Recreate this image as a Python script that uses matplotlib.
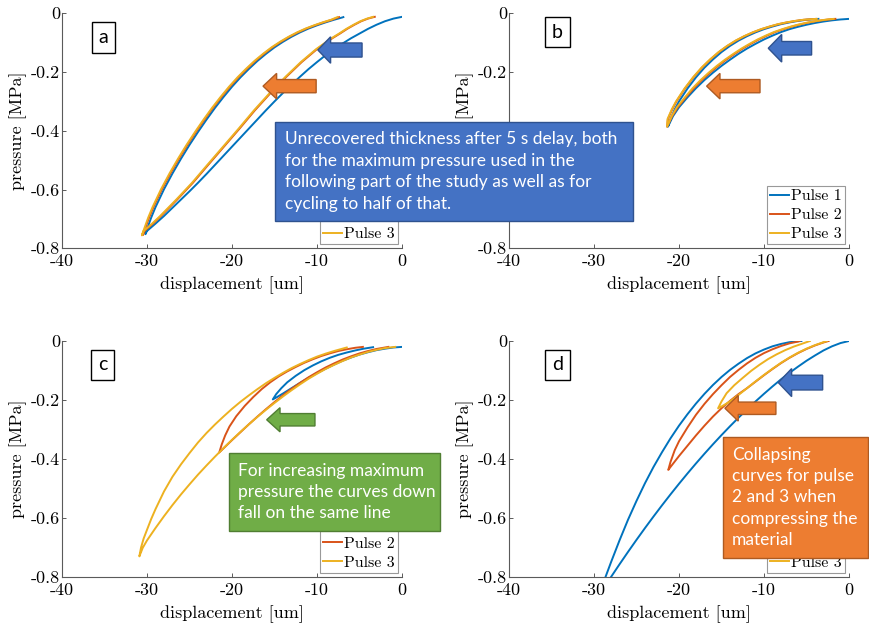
import matplotlib
matplotlib.use('Agg')
import matplotlib.pyplot as plt
from matplotlib.patches import FancyArrow, Rectangle

plt.rcParams['font.family'] = 'serif'
plt.rcParams['font.serif'] = ['cmr10']
plt.rcParams['axes.unicode_minus'] = False
plt.rcParams['mathtext.fontset'] = 'cm'
plt.rcParams['axes.formatter.use_mathtext'] = True

# --- pressure/displacement loops: loading branch, then unloading branch ---
# panel a: cycling to the maximum pressure
a_p1_x = [0, -1, -2, -3, -4, -5, -6, -7, -8, -9, -10, -11, -12, -13, -14, -15, -16, -17, -18, -19, -20,
          -21, -22, -23, -24, -25, -26, -27, -28, -29, -30, -30.2,
          -30, -29.5, -29, -28, -27, -26, -25, -24, -23, -22, -21, -20, -19, -18, -17, -16, -15, -14,
          -13, -12, -11, -10, -9, -8, -7, -6.9]
a_p1_y = [-0.012, -0.018, -0.027, -0.039, -0.053, -0.069, -0.085, -0.103, -0.122, -0.143, -0.166, -0.19,
          -0.216, -0.243, -0.271, -0.30, -0.33, -0.361, -0.392, -0.423, -0.454, -0.485, -0.516, -0.547,
          -0.577, -0.606, -0.634, -0.662, -0.69, -0.716, -0.741, -0.752,
          -0.735, -0.695, -0.66, -0.599, -0.545, -0.495, -0.448, -0.404, -0.362, -0.322, -0.285, -0.25,
          -0.218, -0.189, -0.162, -0.138, -0.116, -0.097, -0.08, -0.065, -0.052, -0.041, -0.031, -0.022,
          -0.014, -0.013]
a_p2_x = [-3.2, -4.0, -4.8, -5.6, -6.45, -7.3, -8.2, -10.0, -11.8, -13.6, -15.45, -17.3, -19.1, -20.95,
          -22.8, -24.6, -26.45, -28.35, -29.3, -30.3, -30.5,
          -30.25, -29.75, -29.25, -28.25, -27.25, -26.25, -25.25, -24.25, -23.25, -22.25, -21.25, -20.25,
          -19.25, -18.25, -17.25, -16.25, -15.25, -14.25, -13.25, -12.25, -11.25, -10.25, -9.25, -8.25,
          -7.4]
a_p2_y = [-0.012, -0.018, -0.027, -0.039, -0.053, -0.069, -0.085, -0.122, -0.166, -0.216, -0.271, -0.33,
          -0.392, -0.454, -0.516, -0.577, -0.634, -0.69, -0.716, -0.741, -0.755,
          -0.735, -0.695, -0.66, -0.599, -0.545, -0.495, -0.448, -0.404, -0.362, -0.322, -0.285, -0.25,
          -0.218, -0.189, -0.162, -0.138, -0.116, -0.097, -0.08, -0.065, -0.052, -0.041, -0.031, -0.022,
          -0.013]
a_p3_x = [-3.4, -4.1, -4.9, -5.7, -6.55, -7.4, -8.3, -10.1, -11.9, -13.7, -15.55, -17.4, -19.2, -21.05,
          -22.9, -24.7, -26.55, -28.45, -29.4, -30.4, -30.6,
          -30.35, -29.85, -29.35, -28.35, -27.35, -26.35, -25.35, -24.35, -23.35, -22.35, -21.35, -20.35,
          -19.35, -18.35, -17.35, -16.35, -15.35, -14.35, -13.35, -12.35, -11.35, -10.35, -9.35, -8.35,
          -7.6]
a_p3_y = a_p2_y[:20] + [-0.756] + a_p2_y[21:]

# panel b: cycling to half of the maximum pressure
b_p1_x = [0, -1, -2, -3, -4, -5, -6, -7, -8, -9, -10, -11, -12, -13, -14, -15, -16, -17, -18, -19, -20,
          -20.7, -21.3,
          -21, -20.5, -20, -19, -18, -17, -16, -15, -14, -13, -12, -11, -10, -9, -8, -7, -6, -5, -4, -3.6]
b_p1_y = [-0.019, -0.021, -0.024, -0.028, -0.033, -0.039, -0.046, -0.054, -0.064, -0.076, -0.089, -0.104,
          -0.12, -0.138, -0.158, -0.179, -0.202, -0.227, -0.255, -0.286, -0.32, -0.35, -0.386,
          -0.36, -0.327, -0.3, -0.256, -0.218, -0.185, -0.157, -0.132, -0.111, -0.093, -0.078, -0.065,
          -0.054, -0.045, -0.037, -0.031, -0.026, -0.022, -0.02, -0.019]
b_p2_x = [-1.6, -2.4, -3.2, -4.1, -5.0, -5.9, -6.8, -7.7, -8.7, -9.65, -10.6, -11.55, -12.5, -13.45,
          -14.45, -15.4, -16.35, -17.3, -18.25, -19.2, -20.15, -20.8, -21.4,
          -21.3, -20.8, -20.3, -19.3, -18.3, -17.3, -16.3, -15.3, -14.3, -13.3, -12.3, -11.3, -10.3, -9.3,
          -8.3, -7.3, -6.3, -5.3, -4.3, -3.9]
b_p2_y = b_p1_y
b_p3_x = [-1.8, -2.55, -3.35, -4.25, -5.15, -6.05, -6.95, -7.85, -8.85, -9.8, -10.75, -11.7, -12.65,
          -13.6, -14.6, -15.55, -16.5, -17.45, -18.4, -19.3, -20.25, -20.85, -21.4,
          -21.35, -20.85, -20.35, -19.35, -18.35, -17.35, -16.35, -15.35, -14.35, -13.35, -12.35, -11.35,
          -10.35, -9.35, -8.35, -7.35, -6.35, -5.35, -4.35, -3.8]
b_p3_y = b_p1_y

# panel c: increasing maximum pressure per pulse
c_p1_x = [0, -1, -2, -3, -4, -5, -6, -7, -8, -9, -10, -11, -12, -13, -14, -14.7, -15.2,
          -14.8, -14.2, -13.5, -12.5, -11.5, -10.5, -9.5, -8.5, -7.5, -6.5, -5.5, -4.5, -3.4]
c_p1_y = [-0.02, -0.022, -0.026, -0.031, -0.038, -0.046, -0.056, -0.067, -0.08, -0.094, -0.109, -0.125,
          -0.142, -0.16, -0.178, -0.19, -0.198,
          -0.18, -0.16, -0.14, -0.118, -0.099, -0.083, -0.069, -0.057, -0.047, -0.039, -0.032, -0.026,
          -0.021]
c_p2_x = [-1.6, -3, -4, -5, -6, -7, -8, -9, -10, -11, -12, -13, -14, -15, -16, -17, -18, -19, -20, -21,
          -21.5,
          -21.2, -20.8, -20.3, -19.5, -18.5, -17.5, -16.5, -15.5, -14.5, -13.5, -12.5, -11.5, -10.5, -9.5,
          -8.5, -7.5, -6.5, -5.5, -4.6]
c_p2_y = [-0.02, -0.027, -0.034, -0.042, -0.052, -0.063, -0.076, -0.09, -0.106, -0.123, -0.142, -0.162,
          -0.184, -0.207, -0.231, -0.256, -0.282, -0.309, -0.336, -0.364, -0.378,
          -0.35, -0.32, -0.29, -0.255, -0.22, -0.19, -0.163, -0.14, -0.12, -0.103, -0.088, -0.074, -0.062,
          -0.051, -0.042, -0.034, -0.028, -0.023, -0.02]
c_p3_x = [-0.8, -2, -3, -4, -5, -6, -7, -8, -9, -10, -11, -12, -13, -14, -15, -16, -17, -18, -19, -20,
          -21, -22, -23, -24, -25, -26, -27, -28, -29, -30, -30.5, -30.9,
          -30.7, -30.4, -30, -29.5, -29, -28, -27, -26, -25, -24, -23, -22, -21, -20, -19, -18, -17, -16,
          -15, -14, -13, -12, -11, -10, -9, -8, -7, -6.5]
c_p3_y = [-0.02, -0.024, -0.03, -0.037, -0.046, -0.056, -0.068, -0.081, -0.095, -0.111, -0.128, -0.147,
          -0.167, -0.188, -0.21, -0.233, -0.257, -0.282, -0.308, -0.335, -0.363, -0.392, -0.422, -0.453,
          -0.486, -0.52, -0.556, -0.594, -0.634, -0.676, -0.701, -0.73,
          -0.70, -0.67, -0.64, -0.603, -0.57, -0.51, -0.46, -0.418, -0.38, -0.344, -0.312, -0.283,
          -0.256, -0.23, -0.206, -0.184, -0.163, -0.143, -0.125, -0.108, -0.092, -0.078, -0.065, -0.053,
          -0.043, -0.034, -0.026, -0.022]

# panel d: full compression first, then smaller pulses
d_p1_x = [0, -1, -2, -3, -4, -5, -6, -7, -8, -9, -10, -11, -12, -13, -14, -15, -16, -17, -18, -19, -20,
          -21, -22, -23, -24, -25, -26, -27, -28, -29,
          -29.3, -28.7, -28, -27, -26, -25, -24, -23, -22, -21, -20, -19, -18, -17, -16, -15, -14, -13,
          -12, -11, -10, -9, -8, -7, -6, -5.6]
d_p1_y = [0, -0.007, -0.018, -0.032, -0.049, -0.067, -0.087, -0.108, -0.13, -0.154, -0.179, -0.205,
          -0.232, -0.26, -0.289, -0.319, -0.35, -0.382, -0.415, -0.449, -0.484, -0.52, -0.557, -0.595,
          -0.634, -0.674, -0.715, -0.757, -0.80, -0.844,
          -0.85, -0.804, -0.75, -0.676, -0.606, -0.542, -0.482, -0.427, -0.377, -0.33, -0.287, -0.248,
          -0.212, -0.179, -0.149, -0.122, -0.098, -0.077, -0.058, -0.042, -0.029, -0.018, -0.01, -0.004,
          -0.001, 0.0]
d_p2_x = [-2.4, -3, -4, -5, -6, -7, -8, -9, -10, -11, -12, -13, -14, -15, -16, -17, -18, -19, -20, -21,
          -21.26,
          -21, -20.5, -20, -19, -18, -17, -16, -15, -14, -13, -12, -11, -10, -9, -8, -7, -6, -5.8]
d_p2_y = [0, -0.005, -0.015, -0.027, -0.041, -0.057, -0.075, -0.095, -0.116, -0.138, -0.16, -0.18,
          -0.203, -0.228, -0.256, -0.287, -0.32, -0.355, -0.39, -0.427, -0.437,
          -0.41, -0.37, -0.34, -0.293, -0.25, -0.213, -0.18, -0.15, -0.122, -0.098, -0.076, -0.057,
          -0.041, -0.028, -0.017, -0.008, -0.002, 0.0]
d_p3_x = [-2.6, -3, -4, -5, -6, -7, -8, -9, -10, -11, -12, -13, -14, -15, -15.4,
          -15, -14.4, -13.5, -12.5, -11.5, -10.5, -9.5, -8.5, -7.5, -6.5, -5.5, -4.6]
d_p3_y = [0, -0.004, -0.014, -0.026, -0.04, -0.056, -0.074, -0.094, -0.115, -0.137, -0.16, -0.183,
          -0.205, -0.222, -0.228,
          -0.205, -0.177, -0.15, -0.125, -0.101, -0.08, -0.061, -0.045, -0.031, -0.019, -0.009, 0.0]

pulse_labels = ['Pulse 1', 'Pulse 2', 'Pulse 3']
pulse_colors = ['#0072BD', '#D95319', '#EDB120']
x_ticks = [-40, -30, -20, -10, 0]
x_ticklabels = ['-40', '-30', '-20', '-10', '0']
y_ticks = [-0.8, -0.6, -0.4, -0.2, 0]
y_ticklabels = ['-0.8', '-0.6', '-0.4', '-0.2', '0']

W, H = 869, 626
fig = plt.figure(figsize=(W / 100, H / 100), dpi=100)


def px_axes(left, top, right, bottom):
    return fig.add_axes([left / W, 1 - bottom / H, (right - left) / W, (bottom - top) / H])


def style(ax):
    ax.set_xlim(-40, 0)
    ax.set_ylim(-0.8, 0)
    ax.set_xticks(x_ticks)
    ax.set_xticklabels(x_ticklabels)
    ax.set_yticks(y_ticks)
    ax.set_yticklabels(y_ticklabels)
    for s in ['top', 'right']:
        ax.spines[s].set_visible(False)
    for s in ['left', 'bottom']:
        ax.spines[s].set_color('#5a5a5a')
        ax.spines[s].set_linewidth(0.8)
    ax.tick_params(direction='in', length=3, width=0.7, color='#5a5a5a', labelsize=13)
    ax.tick_params(axis='x', pad=4)
    ax.tick_params(axis='y', pad=1.5)
    ax.set_xlabel('displacement [um]', fontsize=13, labelpad=5)
    ax.set_ylabel('pressure [MPa]', fontsize=13, labelpad=3)
    ax.patch.set_alpha(0)


def draw_panel(ax, xs, ys):
    for x, y, c, lab in zip(xs, ys, pulse_colors, pulse_labels):
        ax.plot(x, y, color=c, lw=1.4, label=lab)
    style(ax)
    leg = ax.legend(loc='lower right', fontsize=11.5, fancybox=False, framealpha=1,
                    edgecolor='#999999', handlelength=1.2, handletextpad=0.1,
                    borderpad=0.2, labelspacing=0.3, borderaxespad=0.25)
    leg.get_frame().set_linewidth(0.8)


def arrow(ax, tip_x, tip_y, tail_x, body_w, head_w, head_len, face, edge):
    ax.add_patch(FancyArrow(tail_x, tip_y, tip_x - tail_x, 0, width=body_w, head_width=head_w,
                            head_length=head_len, length_includes_head=True,
                            facecolor=face, edgecolor=edge, lw=1.0, zorder=5, clip_on=False))


def panel_tag(ax, letter, x, y):
    ax.text(x, y, letter, fontsize=14, family='Lato', ha='center', va='center', zorder=6,
            bbox=dict(boxstyle='square,pad=0.35', facecolor='white', edgecolor='black', lw=1.0))


def note(left, top, right, bottom, face, edge, text, size, text_x):
    fig.add_artist(Rectangle((left / W, 1 - bottom / H), (right - left) / W, (bottom - top) / H,
                             transform=fig.transFigure, facecolor=face, edgecolor=edge, lw=1.0))
    fig.text(text_x / W, 1 - (top + bottom) / 2 / H, text, color='white', fontsize=size,
             family='Lato', ha='left', va='center', linespacing=1.42)


BLUE, BLUE_E = '#4472C4', '#2F528F'
ORANGE, ORANGE_E = '#ED7D31', '#AE5A21'
GREEN, GREEN_E = '#70AD47', '#507E32'

ax_a = px_axes(62, 13.3, 402, 248.3)
draw_panel(ax_a, [a_p1_x, a_p2_x, a_p3_x], [a_p1_y, a_p2_y, a_p3_y])
panel_tag(ax_a, 'a', -35.1, -0.082)
arrow(ax_a, -9.9, -0.125, -4.7, 0.048, 0.09, 1.5, BLUE, BLUE_E)
arrow(ax_a, -16.35, -0.248, -10.1, 0.045, 0.087, 1.6, ORANGE, ORANGE_E)

ax_b = px_axes(509, 13.3, 849, 248.3)
draw_panel(ax_b, [b_p1_x, b_p2_x, b_p3_x], [b_p1_y, b_p2_y, b_p3_y])
panel_tag(ax_b, 'b', -34.3, -0.064)
arrow(ax_b, -9.5, -0.119, -4.4, 0.046, 0.094, 1.58, BLUE, BLUE_E)
arrow(ax_b, -16.75, -0.248, -10.47, 0.045, 0.087, 1.57, ORANGE, ORANGE_E)

ax_c = px_axes(62, 341, 402, 577)
draw_panel(ax_c, [c_p1_x, c_p2_x, c_p3_x], [c_p1_y, c_p2_y, c_p3_y])
panel_tag(ax_c, 'c', -35.2, -0.081)
arrow(ax_c, -15.92, -0.267, -10.24, 0.042, 0.082, 1.57, GREEN, GREEN_E)

ax_d = px_axes(509, 341, 849, 577)
draw_panel(ax_d, [d_p1_x, d_p2_x, d_p3_x], [d_p1_y, d_p2_y, d_p3_y])
panel_tag(ax_d, 'd', -34.3, -0.081)
arrow(ax_d, -8.32, -0.141, -3.1, 0.05, 0.095, 1.57, BLUE, BLUE_E)
arrow(ax_d, -14.6, -0.228, -8.6, 0.042, 0.087, 1.57, ORANGE, ORANGE_E)

note(275, 122, 633, 221, BLUE, BLUE_E,
     'Unrecovered thickness after 5 s delay, both\nfor the maximum pressure used in the\n'
     'following part of the study as well as for\ncycling to half of that.', 12.5, 285)
note(229, 453, 440, 531, GREEN, GREEN_E,
     'For increasing maximum\npressure the curves down\nfall on the same line', 12.5, 238)
note(723, 437, 868, 558, ORANGE, ORANGE_E,
     'Collapsing\ncurves for pulse\n2 and 3 when\ncompressing the\nmaterial', 12.5, 732)

fig.savefig('out.png', dpi=100)
